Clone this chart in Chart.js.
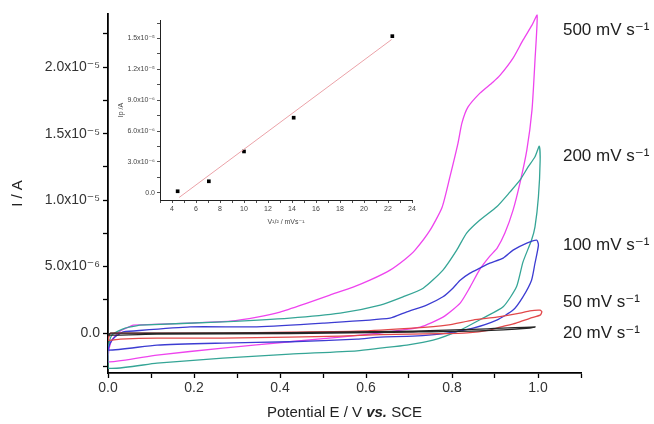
<!DOCTYPE html>
<html>
<head>
<meta charset="utf-8">
<script src="https://cdn.jsdelivr.net/npm/chart.js@4/dist/chart.umd.min.js"></script>
<style>
  html, body { margin: 0; padding: 0; background: #fff; }
  #wrap { position: relative; width: 654px; height: 424px; }
  #main { position: absolute; left: 0; top: 0; }
  #inset { position: absolute; left: 112px; top: 12px; }
</style>
</head>
<body>
<div id="wrap">
  <canvas id="main" width="654" height="424"></canvas>
  <canvas id="inset" width="306" height="222"></canvas>
</div>
<script>
// ---------- main CV data: potential E (V) and current I (in units of 1e-6 A) ----------
const e500 = [0.058,0.191,0.284,0.347,0.400,0.463,0.516,0.570,0.609,0.656,0.691,0.714,0.749,0.777,0.795,0.814,0.823,0.837,0.865,0.895,0.912,0.942,0.965,0.986,0.998,
              0.993,0.986,0.974,0.958,0.942,0.923,0.905,0.888,0.865,0.842,0.819,0.779,0.726,0.663,0.609,0.540,0.423,0.267,0.114,0.000,
              0.002,0.009,0.028,0.058];
const i500 = [0.60,0.75,0.90,1.20,1.58,2.26,2.86,3.46,3.98,4.74,5.56,6.24,7.74,9.47,11.73,14.29,15.79,16.99,18.05,18.87,19.40,20.68,22.03,23.16,23.91,
              20.53,16.77,13.76,11.28,9.25,7.52,6.39,5.79,4.81,3.46,2.26,1.20,0.45,0.15,-0.08,-0.30,-0.65,-1.13,-1.65,-2.16,
              -1.28,-0.53,0.15,0.60];

const e200 = [0.074,0.267,0.423,0.540,0.633,0.686,0.733,0.779,0.811,0.834,0.865,0.904,0.935,0.958,0.977,0.993,1.003,
              1.005,1.001,0.993,0.985,0.965,0.950,0.919,0.872,0.819,0.756,0.695,0.633,0.579,0.423,0.267,0.114,0.000,
              0.000,0.009,0.040,0.074];
const i200 = [0.60,0.85,1.13,1.50,2.11,2.73,3.38,4.74,6.24,7.52,8.50,9.50,10.62,11.50,12.50,13.26,14.06,
              13.00,10.25,7.99,7.00,5.34,3.48,1.98,1.13,0.23,-0.53,-0.90,-1.13,-1.33,-1.58,-1.88,-2.26,-2.63,
              -1.28,-0.15,0.38,0.60];

const e100 = [0.035,0.191,0.346,0.500,0.656,0.695,0.741,0.779,0.802,0.819,0.842,0.865,0.888,0.919,0.942,0.974,0.997,
              1.001,0.993,0.985,0.965,0.942,0.904,0.849,0.788,0.709,0.633,0.579,0.423,0.267,0.114,0.000,
              0.005,0.016,0.035];
const i100 = [0.10,0.47,0.47,0.75,1.13,1.60,2.11,2.73,3.38,3.98,4.51,4.89,5.26,5.64,6.24,6.77,6.99,
              6.62,5.26,3.98,2.73,1.73,0.98,0.38,0.00,-0.23,-0.30,-0.45,-0.65,-0.75,-0.90,-1.28,
              -0.75,-0.30,0.10];

const e50 = [0.005,0.114,0.267,0.423,0.579,0.709,0.788,0.849,0.904,0.958,0.981,1.005,1.009,
             1.005,0.981,0.949,0.912,0.888,0.835,0.772,0.633,0.540,0.423,0.267,0.114,0.028,0.000,0.005];
const i50 = [0.00,0.00,0.00,0.08,0.15,0.38,0.60,0.98,1.20,1.50,1.68,1.73,1.60,
             1.35,1.11,0.75,0.45,0.23,0.02,-0.04,-0.11,-0.23,-0.30,-0.38,-0.38,-0.45,-0.53,0.00];

const e20 = [0.005,0.114,0.423,0.709,0.865,0.993,0.981,0.865,0.709,0.423,0.114,0.000,0.005];
const i20 = [0.00,0.00,0.04,0.15,0.30,0.47,0.38,0.17,0.08,-0.04,-0.08,-0.15,0.00];

const rateLabels = ['500 mV s⁻¹','200 mV s⁻¹','100 mV s⁻¹','50 mV s⁻¹','20 mV s⁻¹'];
const labelE = 1.058;                       // label anchor potential (V)
const labelI = [22.8, 13.26, 6.6, 2.28, -0.02]; // label anchor current (1e-6 A)

// x / y tick values
const xTickStep = 0.1, yTickStep = 2.5;

// ---------- inset data: v^1/2 and Ip (1e-6 A) ----------
const sqrtV = [4.47, 7.07, 10.0, 14.14, 22.36];
const ip    = [0.15, 1.12, 4.02, 7.30, 15.23];
const fitX  = [4.6, 22.3];
const fitY  = [-0.45, 14.9];

const FONT = '"Liberation Sans", Arial, "DejaVu Sans", sans-serif';
const SUP = {'-':'⁻','0':'⁰','1':'¹','2':'²','3':'³','4':'⁴','5':'⁵','6':'⁶','7':'⁷','8':'⁸','9':'⁹'};
function sci(vMicro) {
  if (Math.abs(vMicro) < 1e-9) return '0.0';
  const a = vMicro * 1e-6;
  const ex = Math.floor(Math.log10(Math.abs(a)) + 1e-9);
  const m = a / Math.pow(10, ex);
  return m.toFixed(1) + 'x10' + String(ex).split('').map(c => SUP[c]).join('');
}
function isMult(v, s) { return Math.abs(v / s - Math.round(v / s)) < 1e-6; }
const pts = (xs, ys) => xs.map((x, k) => ({x, y: ys[k]}));

const series = [
  {e: e20,  i: i20,  color: '#262626'},
  {e: e50,  i: i50,  color: '#e2484a'},
  {e: e100, i: i100, color: '#3c3cd2'},
  {e: e200, i: i200, color: '#35a596'},
  {e: e500, i: i500, color: '#ee44ee'}
];

const mainText = {
  id: 'mainText',
  afterDraw(chart) {
    const {ctx, chartArea, scales: {x, y}} = chart;
    ctx.save();
    ctx.fillStyle = '#222';
    ctx.textBaseline = 'middle';
    ctx.textAlign = 'left';
    ctx.font = '17px ' + FONT;
    rateLabels.forEach((t, k) => ctx.fillText(t, x.getPixelForValue(labelE), y.getPixelForValue(labelI[k])));
    const parts = [['Potential E / V ', '15px '], ['vs.', 'italic bold 15px '], [' SCE', '15px ']];
    let w = 0;
    parts.forEach(p => { ctx.font = p[1] + FONT; w += ctx.measureText(p[0]).width; });
    let px = (chartArea.left + chartArea.right) / 2 - w / 2;
    parts.forEach(p => { ctx.font = p[1] + FONT; ctx.fillText(p[0], px, 413); px += ctx.measureText(p[0]).width; });
    ctx.translate(18, (chartArea.top + chartArea.bottom) / 2);
    ctx.rotate(-Math.PI / 2);
    ctx.textAlign = 'center';
    ctx.font = '15px ' + FONT;
    ctx.fillText('I / A', 0, 0);
    ctx.restore();
  }
};

new Chart(document.getElementById('main'), {
  type: 'scatter',
  data: {
    datasets: series.map(s => ({
      data: pts(s.e, s.i), showLine: true, borderColor: s.color, borderWidth: 1.3,
      pointRadius: 0, tension: 0.2, fill: false
    }))
  },
  options: {
    responsive: false, animation: false, devicePixelRatio: 1,
    layout: {padding: {left: 0, right: 73, top: 14, bottom: 0}},
    plugins: {legend: {display: false}, tooltip: {enabled: false}},
    scales: {
      x: {
        type: 'linear', min: 0, max: 1.1,
        ticks: {stepSize: xTickStep, autoSkip: false, maxRotation: 0, padding: 2, color: '#333',
                font: {family: FONT, size: 14},
                callback: v => { const k = Math.round(v * 10); return (k % 2 === 0 && k <= 10) ? (k / 10).toFixed(1) : ''; }},
        grid: {drawOnChartArea: false, drawTicks: true, tickLength: 5, tickColor: '#000', tickWidth: 1.3},
        border: {display: true, color: '#000', width: 1.8},
        afterFit: s => { s.height = 51; }
      },
      y: {
        type: 'linear', min: -3, max: 24,
        afterBuildTicks: s => { s.ticks = s.ticks.filter(t => isMult(t.value, yTickStep)); },
        ticks: {stepSize: yTickStep, includeBounds: false, autoSkip: false, padding: 3, color: '#333',
                font: {family: FONT, size: 14},
                callback: v => isMult(v, 5) ? sci(v) : ''},
        grid: {drawOnChartArea: false, drawTicks: true, tickLength: 5, tickColor: '#000', tickWidth: 1.3},
        border: {display: true, color: '#000', width: 1.8},
        afterFit: s => { s.width = 108; }
      }
    }
  },
  plugins: [mainText]
});

const insetText = {
  id: 'insetText',
  afterDraw(chart) {
    const {ctx, chartArea} = chart;
    ctx.save();
    ctx.fillStyle = '#444';
    ctx.textBaseline = 'middle';
    ctx.textAlign = 'center';
    ctx.font = '7px ' + FONT;
    ctx.fillText('V¹/² / mVs⁻¹', (chartArea.left + chartArea.right) / 2, 210);
    ctx.translate(9, (chartArea.top + chartArea.bottom) / 2);
    ctx.rotate(-Math.PI / 2);
    ctx.fillText('Ip /A', 0, 0);
    ctx.restore();
  }
};

new Chart(document.getElementById('inset'), {
  type: 'scatter',
  data: {
    datasets: [
      {data: pts(fitX, fitY), showLine: true, borderColor: '#eba2a8', borderWidth: 1, pointRadius: 0},
      {data: pts(sqrtV, ip), showLine: false, pointStyle: 'rect', pointRadius: 2.6,
       backgroundColor: '#000', borderColor: '#000', borderWidth: 0}
    ]
  },
  options: {
    responsive: false, animation: false, devicePixelRatio: 1,
    layout: {padding: {left: 0, right: 6, top: 8, bottom: 0}},
    plugins: {legend: {display: false}, tooltip: {enabled: false}},
    scales: {
      x: {
        type: 'linear', min: 3, max: 24,
        ticks: {stepSize: 1, autoSkip: false, maxRotation: 0, padding: 2, color: '#444',
                font: {family: FONT, size: 7},
                callback: v => (v % 2 === 0 && v >= 4) ? String(v) : ''},
        grid: {drawOnChartArea: false, drawTicks: true, tickLength: 3, tickColor: '#222', tickWidth: 0.8},
        border: {display: true, color: '#222', width: 1},
        afterFit: s => { s.height = 34; }
      },
      y: {
        type: 'linear', min: -0.7, max: 16.8,
        afterBuildTicks: s => { s.ticks = s.ticks.filter(t => isMult(t.value, 1.5)); },
        ticks: {stepSize: 1.5, includeBounds: false, autoSkip: false, padding: 2, color: '#444',
                font: {family: FONT, size: 7},
                callback: v => isMult(v, 3) ? sci(v) : ''},
        grid: {drawOnChartArea: false, drawTicks: true, tickLength: 3, tickColor: '#222', tickWidth: 0.8},
        border: {display: true, color: '#222', width: 1},
        afterFit: s => { s.width = 48; }
      }
    }
  },
  plugins: [insetText]
});
</script>
</body>
</html>
